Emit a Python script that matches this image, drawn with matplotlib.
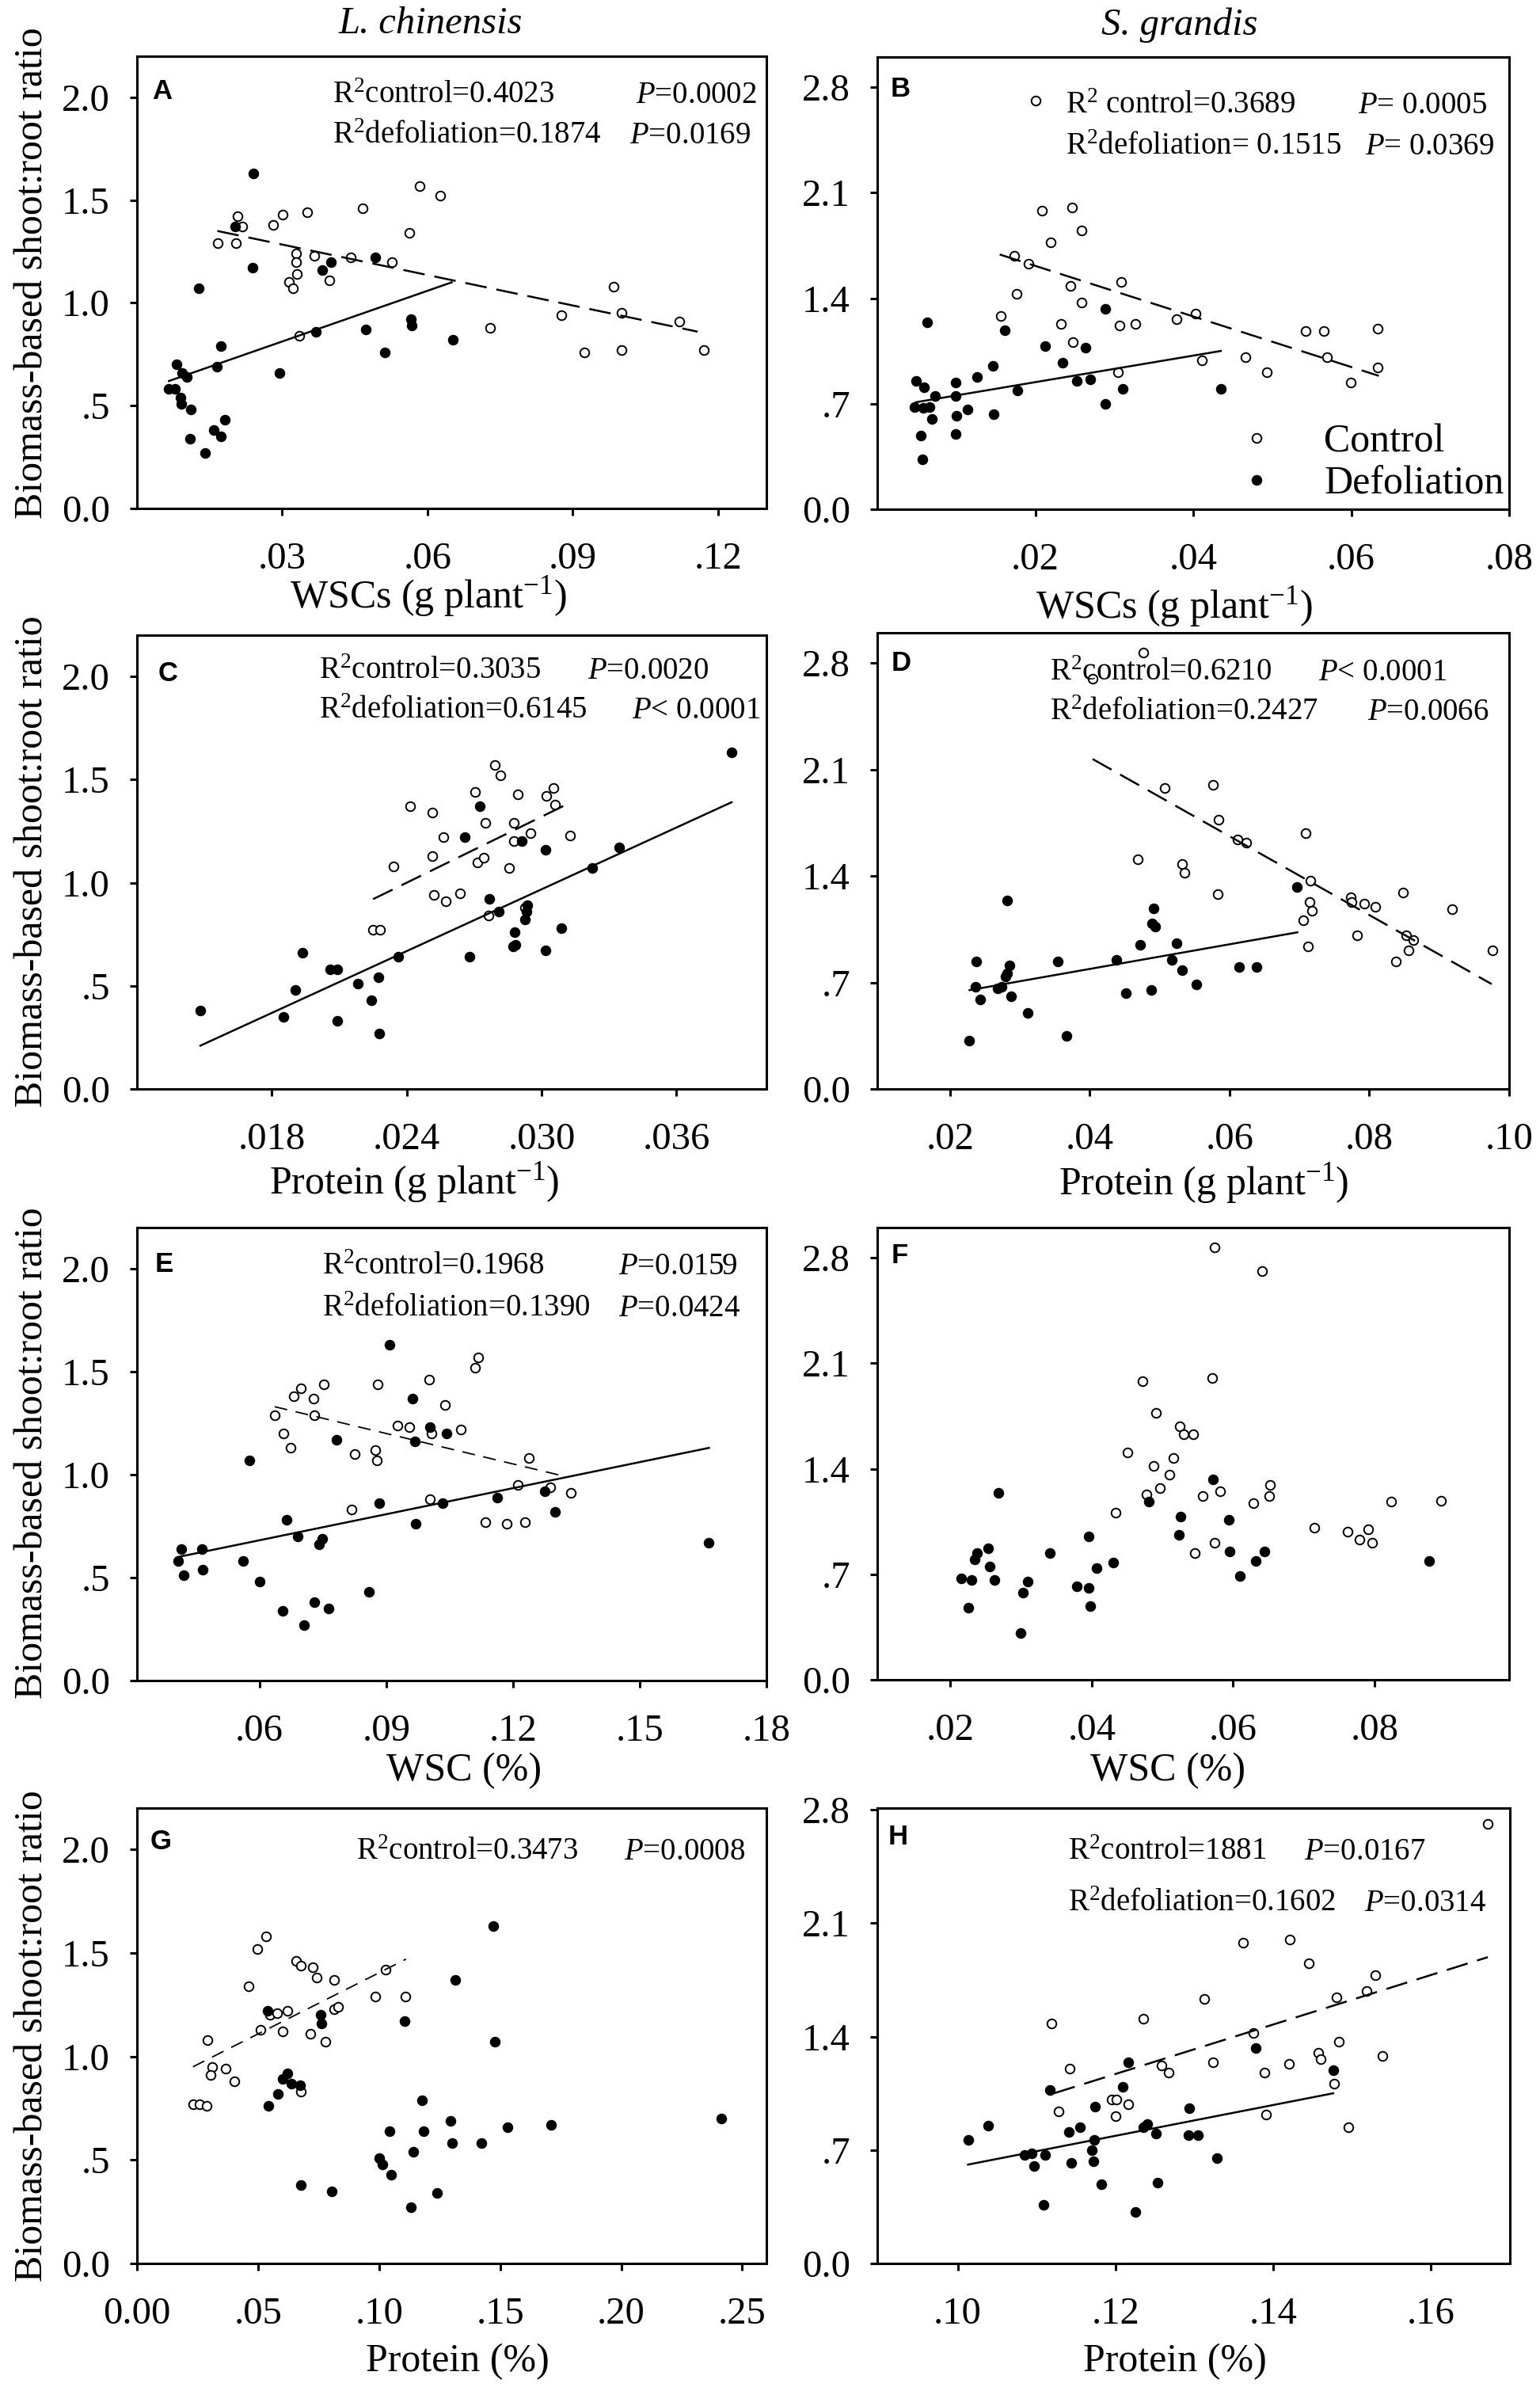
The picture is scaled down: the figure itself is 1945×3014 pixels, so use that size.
import numpy as np
import matplotlib
matplotlib.use("Agg")
import matplotlib.pyplot as plt
from matplotlib.lines import Line2D

plt.rcParams['font.family'] = ['Liberation Serif', 'DejaVu Serif']
plt.rcParams['mathtext.fontset'] = 'custom'
plt.rcParams['mathtext.rm'] = 'Liberation Serif'
plt.rcParams['mathtext.it'] = 'Liberation Serif:italic'

# ---- data ----
# A: L. chinensis, WSCs (g/plant)
a_ctrl_x = [0.0166, 0.0207, 0.0217, 0.0205, 0.0282, 0.0301, 0.0352, 0.0329, 0.0328, 0.0330, 0.0314, 0.0322, 0.0367, 0.0398, 0.0441,
            0.0466, 0.0526, 0.0563, 0.0584, 0.0626, 0.0335, 0.0730, 0.0876, 0.0924, 0.0984, 0.1001, 0.1001, 0.1120, 0.1171]
a_ctrl_y = [1.29, 1.42, 1.37, 1.29, 1.38, 1.43, 1.44, 1.24, 1.20, 1.14, 1.10, 1.07, 1.23, 1.11, 1.22,
            1.46, 1.20, 1.34, 1.57, 1.52, 0.84, 0.88, 0.94, 0.76, 1.08, 0.95, 0.77, 0.91, 0.77]
a_def_x = [0.0240, 0.0202, 0.0239, 0.0128, 0.0382, 0.0400, 0.0492, 0.0369, 0.0473, 0.0566, 0.0568, 0.0512, 0.0652, 0.0295, 0.0173,
           0.0165, 0.0082, 0.0093, 0.0103, 0.0065, 0.0079, 0.0090, 0.0091, 0.0112, 0.0181, 0.0158, 0.0174, 0.0110, 0.0141]
a_def_y = [1.63, 1.37, 1.17, 1.07, 1.16, 1.20, 1.22, 0.86, 0.87, 0.92, 0.89, 0.76, 0.82, 0.66, 0.79,
           0.69, 0.70, 0.66, 0.64, 0.58, 0.58, 0.54, 0.51, 0.48, 0.43, 0.38, 0.35, 0.34, 0.27]
a_fit_ctrl = ([0.0166, 0.1158], [1.35, 0.86])
a_fit_def = ([0.0066, 0.0650], [0.62, 1.10])

# B: S. grandis, WSCs (g/plant)
b_ctrl_x = [0.0201, 0.0209, 0.0247, 0.0220, 0.0259, 0.0173, 0.0191, 0.0176, 0.0156, 0.0245, 0.0309, 0.0259, 0.0233, 0.0307,
            0.0327, 0.0379, 0.0403, 0.0248, 0.0305, 0.0411, 0.0466, 0.0493, 0.0542, 0.0565, 0.0569, 0.0634, 0.0634, 0.0599]
b_ctrl_y = [2.71, 1.98, 2.00, 1.77, 1.85, 1.68, 1.63, 1.43, 1.28, 1.48, 1.51, 1.37, 1.23, 1.22,
            1.23, 1.26, 1.30, 1.11, 0.91, 0.99, 1.01, 0.91, 1.18, 1.18, 1.01, 1.20, 0.94, 0.84]
b_def_x = [0.0063, 0.0161, 0.0289, 0.0213, 0.0264, 0.0235, 0.0146, 0.0126, 0.0099, 0.0253, 0.0270, 0.0177, 0.0311, 0.0435, 0.0289,
           0.0049, 0.0059, 0.0073, 0.0099, 0.0047, 0.0058, 0.0066, 0.0114, 0.0100, 0.0069, 0.0147, 0.0055, 0.0099, 0.0057]
b_def_y = [1.24, 1.19, 1.33, 1.08, 1.07, 0.97, 0.95, 0.88, 0.84, 0.85, 0.86, 0.79, 0.80, 0.80, 0.70,
           0.85, 0.81, 0.75, 0.75, 0.68, 0.67, 0.68, 0.66, 0.62, 0.60, 0.63, 0.49, 0.50, 0.33]
b_fit_ctrl = ([0.0155, 0.0635], [1.69, 0.885])
b_fit_def = ([0.0049, 0.0435], [0.71, 1.05])

# C: L. chinensis, protein (g/plant)
c_ctrl_x = [.02414, .02514, .02564, .02514, .02341, .02520, .02575, .02637, .02250, .02282, .02704, .02791, .02815, .02748,
            .02893, .02875, .02875, .02951, .02713, .02743, .02854, .03022, .03053, .03061, .03128, .02763, .02925]
c_ctrl_y = [1.37, 1.34, 1.22, 1.13, 1.08, 0.94, 0.91, 0.95, 0.77, 0.77, 1.44, 1.57, 1.52, 1.29,
            1.43, 1.29, 1.20, 1.24, 1.10, 1.12, 1.07, 1.42, 1.46, 1.38, 1.23, 0.84, 0.88]
c_def_x = [.03845, .02726, .02659, .02910, .03018, .03345, .03224, .02767, .02808, .02936, .02932, .02927, .03087, .02880, .02873,
           .02882, .03016, .02681, .02363, .01936, .02060, .02092, .02181, .02274, .02241, .01906, .01850, .02092, .02276, .01482]
c_def_y = [1.63, 1.37, 1.22, 1.20, 1.16, 1.17, 1.07, 0.92, 0.86, 0.89, 0.86, 0.82, 0.78, 0.76, 0.69,
           0.70, 0.67, 0.64, 0.64, 0.66, 0.58, 0.58, 0.51, 0.54, 0.43, 0.48, 0.35, 0.33, 0.27, 0.38]
c_fit_ctrl = ([.0225, .03131], [0.92, 1.39])
c_fit_def = ([.01482, .03845], [0.21, 1.39])

# D: S. grandis, protein (g/plant)
d_ctrl_x = [.0477, .0404, .0507, .0576, .0584, .0612, .0624, .0709, .0469, .0532, .0536, .0583, .0716, .0715, .0718,
            .0706, .0712, .0773, .0775, .0793, .0808, .0848, .0782, .0853, .0863, .0856, .0838, .0919, .0976]
d_ctrl_y = [2.87, 2.70, 1.98, 2.00, 1.77, 1.64, 1.62, 1.68, 1.51, 1.48, 1.42, 1.28, 1.37, 1.23, 1.17,
            1.11, 0.94, 1.26, 1.23, 1.22, 1.20, 1.29, 1.01, 1.01, 0.98, 0.91, 0.84, 1.18, 0.91]
d_def_x = [.0696, .0282, .0491, .0489, .0494, .0472, .0524, .0517, .0438, .0354, .0532, .0552, .0614, .0639,
           .0238, .0285, .0282, .0280, .0237, .0268, .0274, .0243, .0287, .0452, .0488, .0311, .0367, .0227]
d_def_y = [1.33, 1.24, 1.19, 1.09, 1.07, 0.95, 0.96, 0.85, 0.85, 0.84, 0.78, 0.69, 0.80, 0.80,
           0.84, 0.81, 0.76, 0.74, 0.67, 0.66, 0.67, 0.59, 0.61, 0.63, 0.65, 0.50, 0.35, 0.32]
d_fit_ctrl = ([.0404, .0975], [2.17, 0.69])
d_fit_def = ([.0228, .0697], [0.65, 1.03])

# E: L. chinensis, WSC (%)
e_ctrl_x = [.0636, .0657, .0673, .0681, .0698, .0728, .0730, .0752, .0826, .0818, .0875, .0877, .0880, .0927, .0954,
            .1002, .1007, .1040, .1077, .1110, .1118, .1004, .1134, .1186, .1228, .1212, .1238, .1289, .1338]
e_ctrl_y = [1.29, 1.20, 1.13, 1.38, 1.42, 1.37, 1.29, 1.44, 1.10, 0.83, 1.12, 1.07, 1.44, 1.24, 1.23,
            1.46, 1.20, 1.34, 1.22, 1.52, 1.57, 0.88, 0.77, 0.76, 0.77, 0.95, 1.08, 0.94, 0.91]
e_def_x = [.0907, .0962, .1003, .1042, .0967, .0782, .0577, .0883, .1033, .1162, .1276, .1299, .0969, .0665, .0690,
           .0749, .0742, .0415, .0464, .0407, .0561, .0420, .0465, .0600, .0860, .0730, .0654, .0763, .0705, .1664]
e_def_y = [1.63, 1.37, 1.23, 1.20, 1.16, 1.17, 1.07, 0.86, 0.86, 0.89, 0.92, 0.82, 0.76, 0.78, 0.70,
           0.69, 0.66, 0.64, 0.64, 0.58, 0.58, 0.51, 0.54, 0.48, 0.43, 0.38, 0.34, 0.35, 0.27, 0.67]
e_fit_ctrl = ([.0636, .1326], [1.33, 0.99])
e_fit_def = ([.0407, .1664], [0.60, 1.13])

# F: S. grandis, WSC (%)
f_ctrl_x = [.0574, .0641, .0472, .0570, .0491, .0524, .0530, .0544, .0451, .0515, .0487, .0510, .0497, .0478, .0557,
            .0581, .0434, .0574, .0546, .0629, .0651, .0652, .0715, .0762, .0778, .0791, .0796, .0823, .0894]
f_ctrl_y = [2.87, 2.71, 1.98, 2.00, 1.77, 1.68, 1.63, 1.63, 1.51, 1.47, 1.42, 1.36, 1.27, 1.23, 1.22,
            1.25, 1.11, 0.91, 0.84, 1.17, 1.22, 1.29, 1.01, 0.98, 0.93, 1.00, 0.91, 1.18, 1.19]
f_def_x = [.0268, .0572, .0481, .0526, .0594, .0523, .0396, .0254, .0238, .0235, .0341, .0256, .0263, .0216, .0230,
           .0310, .0303, .0379, .0396, .0398, .0226, .0300, .0407, .0430, .0595, .0644, .0632, .0609, .0877]
f_def_y = [1.24, 1.33, 1.18, 1.08, 1.06, 0.96, 0.95, 0.87, 0.84, 0.80, 0.84, 0.75, 0.66, 0.67, 0.66,
           0.65, 0.58, 0.62, 0.61, 0.49, 0.48, 0.31, 0.74, 0.78, 0.85, 0.85, 0.79, 0.69, 0.79]

# G: L. chinensis, protein (%)
g_ctrl_x = [.0233, .0257, .0289, .0291, .0312, .0304, .0366, .0401, .0460, .0498, .0532, .0510, .0551, .0579, .0601,
            .0623, .0656, .0678, .0725, .0741, .0715, .0777, .0676, .0814, .0814, .0832, .0986, .1026, .1109]
g_ctrl_y = [0.77, 0.77, 0.76, 1.08, 0.95, 0.91, 0.94, 0.88, 1.34, 1.52, 1.58, 1.13, 1.20, 1.21, 1.12,
            1.22, 1.46, 1.44, 1.43, 1.38, 1.11, 1.07, 0.83, 1.37, 1.23, 1.24, 1.29, 1.42, 1.29]
g_def_x = [.1472, .1316, .1105, .1478, .0538, .0759, .0763, .0621, .0601, .0638, .0674, .0581, .0543, .1176, .1296,
           .1043, .1184, .1530, .1709, .2415, .1302, .1423, .1140, .1000, .1014, .1049, .0678, .0804, .1239, .1132]
g_def_y = [1.63, 1.37, 1.17, 1.07, 1.22, 1.20, 1.16, 0.92, 0.89, 0.87, 0.86, 0.82, 0.76, 0.79, 0.69,
           0.64, 0.64, 0.66, 0.67, 0.70, 0.58, 0.58, 0.54, 0.51, 0.48, 0.43, 0.38, 0.35, 0.34, 0.27]
g_fit_ctrl = ([.0231, .1111], [0.95, 1.47])

# H: S. grandis, protein (%)
h_ctrl_x = [.1672, .1362, .1421, .1445, .1529, .1518, .1480, .1313, .1235, .1119, .1375, .1483, .1457, .1460, .1538,
            .1324, .1420, .1258, .1267, .1142, .1389, .1477, .1195, .1201, .1216, .1128, .1200, .1391, .1495]
h_ctrl_y = [2.71, 1.98, 2.00, 1.85, 1.78, 1.68, 1.64, 1.63, 1.51, 1.48, 1.42, 1.37, 1.30, 1.26, 1.28,
            1.24, 1.23, 1.22, 1.18, 1.20, 1.18, 1.11, 1.01, 1.01, 0.98, 0.94, 0.91, 0.92, 0.84]
h_def_x = [.1216, .1378, .1476, .1117, .1209, .1174, .1293, .1039, .1155, .1141, .1235, .1240, .1251, .1292, .1305,
           .1013, .1173, .1170, .1085, .1094, .1111, .1097, .1144, .1172, .1329, .1182, .1253, .1109, .1225]
h_def_y = [1.24, 1.33, 1.19, 1.07, 1.09, 0.97, 0.96, 0.85, 0.84, 0.81, 0.84, 0.86, 0.80, 0.79, 0.79,
           0.76, 0.76, 0.70, 0.67, 0.68, 0.67, 0.60, 0.62, 0.63, 0.65, 0.49, 0.50, 0.36, 0.32]
h_fit_ctrl = ([.1122, .1672], [1.05, 1.89])
h_fit_def = ([.1013, .1476], [0.61, 1.05])

# axis ticks
lc_yticks = [0.0, 0.5, 1.0, 1.5, 2.0]
lc_ylabels = ['0.0', '.5', '1.0', '1.5', '2.0']
sg_yticks = [0.0, 0.7, 1.4, 2.1, 2.8]
sg_ylabels = ['0.0', '.7', '1.4', '2.1', '2.8']

# ---- layout (pixel boxes in a 1945 x 3014 canvas) ----
W, H = 1945.0, 3014.0


def box(l, t, r, b):
    return [l / W, 1 - b / H, (r - l) / W, (b - t) / H]


R2 = r'R$^{\mathrm{2}}$'
panels = [
    dict(letter='A', pos=box(173, 71, 968, 642), ctrl=(a_ctrl_x, a_ctrl_y), dfl=(a_def_x, a_def_y),
         fc=a_fit_ctrl, fd=a_fit_def, xlim=(0, 0.13), xt=[.03, .06, .09, .12], xl=['.03', '.06', '.09', '.12'],
         ylim=(0, 2.2), yt=lc_yticks, yl=lc_ylabels, lpos=(0.024, 0.951), dash=(11, 5), dlw=1.8,
         notes=[(0.311, 0.897, R2 + 'control=0.4023'), (0.793, 0.897, '$P$=0.0002'),
                (0.311, 0.807, R2 + 'defoliation=0.1874'), (0.782, 0.807, '$P$=0.0169')]),
    dict(letter='B', pos=box(1108, 72, 1906, 643), ctrl=(b_ctrl_x, b_ctrl_y), dfl=(b_def_x, b_def_y),
         fc=b_fit_ctrl, fd=b_fit_def, xlim=(0, 0.08), xt=[.02, .04, .06, .08], xl=['.02', '.04', '.06', '.08'],
         ylim=(0, 3.0), yt=sg_yticks, yl=sg_ylabels, lpos=(0.021, 0.958), dash=(11, 5), dlw=1.8,
         notes=[(0.2985, 0.8765, R2 + ' control=0.3689'), (0.761, 0.8765, '$P$= 0.0005'),
                (0.2985, 0.785, R2 + 'defoliation= 0.1515'), (0.772, 0.785, '$P$= 0.0369')]),
    dict(letter='C', pos=box(173, 802, 968, 1375), ctrl=(c_ctrl_x, c_ctrl_y), dfl=(c_def_x, c_def_y),
         fc=c_fit_ctrl, fd=c_fit_def, xlim=(0.012, 0.040), xt=[.018, .024, .030, .036],
         xl=['.018', '.024', '.030', '.036'],
         ylim=(0, 2.2), yt=lc_yticks, yl=lc_ylabels, lpos=(0.034, 0.945), dash=(11, 5), dlw=1.8,
         notes=[(0.2895, 0.9036, R2 + 'control=0.3035'), (0.716, 0.9036, '$P$=0.0020'),
                (0.2895, 0.8167, R2 + 'defoliation=0.6145'), (0.786, 0.8167, '$P$< 0.0001')]),
    dict(letter='D', pos=box(1108, 799, 1906, 1375), ctrl=(d_ctrl_x, d_ctrl_y), dfl=(d_def_x, d_def_y),
         fc=d_fit_ctrl, fd=d_fit_def, xlim=(0.0096, 0.10), xt=[.02, .04, .06, .08, .10],
         xl=['.02', '.04', '.06', '.08', '.10'],
         ylim=(0, 3.0), yt=sg_yticks, yl=sg_ylabels, lpos=(0.022, 0.962), dash=(11, 5), dlw=1.8,
         notes=[(0.2728, 0.8958, R2 + 'control=0.6210'), (0.698, 0.8958, '$P$< 0.0001'),
                (0.2728, 0.8096, R2 + 'defoliation=0.2427'), (0.776, 0.8096, '$P$=0.0066')]),
    dict(letter='E', pos=box(173, 1550, 968, 2122), ctrl=(e_ctrl_x, e_ctrl_y), dfl=(e_def_x, e_def_y),
         fc=e_fit_ctrl, fd=e_fit_def, xlim=(0.031, 0.18), xt=[.06, .09, .12, .15, .18],
         xl=['.06', '.09', '.12', '.15', '.18'],
         ylim=(0, 2.2), yt=lc_yticks, yl=lc_ylabels, lpos=(0.029, 0.947), dash=(9, 6), dlw=1.3,
         notes=[(0.294, 0.897, R2 + 'control=0.1968'), (0.765, 0.897, '$P$=0.0159'),
                (0.294, 0.8035, R2 + 'defoliation=0.1390'), (0.765, 0.8035, '$P$=0.0424')]),
    dict(letter='F', pos=box(1108, 1550, 1906, 2121), ctrl=(f_ctrl_x, f_ctrl_y), dfl=(f_def_x, f_def_y),
         fc=None, fd=None, xlim=(0.0097, 0.099), xt=[.02, .04, .06, .08], xl=['.02', '.04', '.06', '.08'],
         ylim=(0, 3.0), yt=sg_yticks, yl=sg_ylabels, lpos=(0.022, 0.966), dash=(11, 5), dlw=1.8,
         notes=[]),
    dict(letter='G', pos=box(173, 2283, 968, 2858), ctrl=(g_ctrl_x, g_ctrl_y), dfl=(g_def_x, g_def_y),
         fc=g_fit_ctrl, fd=None, xlim=(0, 0.26), xt=[0, .05, .10, .15, .20, .25],
         xl=['0.00', '.05', '.10', '.15', '.20', '.25'],
         ylim=(0, 2.2), yt=lc_yticks, yl=lc_ylabels, lpos=(0.021, 0.955), dash=(9, 6), dlw=1.3,
         notes=[(0.348, 0.887, R2 + 'control=0.3473'), (0.773, 0.887, '$P$=0.0008')]),
    dict(letter='H', pos=box(1108, 2283, 1907, 2858), ctrl=(h_ctrl_x, h_ctrl_y), dfl=(h_def_x, h_def_y),
         fc=h_fit_ctrl, fd=h_fit_def, xlim=(0.0898, 0.17), xt=[.10, .12, .14, .16],
         xl=['.10', '.12', '.14', '.16'],
         ylim=(0, 2.81), yt=sg_yticks, yl=sg_ylabels, lpos=(0.017, 0.966), dash=(11, 5), dlw=1.8,
         notes=[(0.302, 0.887, R2 + 'control=1881'), (0.674, 0.887, '$P$=0.0167'),
                (0.302, 0.774, R2 + 'defoliation=0.1602'), (0.770, 0.774, '$P$=0.0314')]),
]

# x axis labels: (text, centre x px, baseline y px)
xlabels = [('WSCs (g plant$^{\\mathrm{-1}}$)', 541, 767), ('WSCs (g plant$^{\\mathrm{-1}}$)', 1483, 780),
           ('Protein (g plant$^{\\mathrm{-1}}$)', 523, 1507), ('Protein (g plant$^{\\mathrm{-1}}$)', 1520, 1508),
           ('WSC (%)', 586, 2248), ('WSC (%)', 1475, 2248),
           ('Protein (%)', 578, 2994), ('Protein (%)', 1484, 2994)]
ylabel_rows = [345, 1088, 1835, 2571]

fig = plt.figure(figsize=(19.45, 30.14), dpi=100)

mk = dict(ls='none', marker='o', ms=8.3, mew=1.4, mec='black')
for p in panels:
    ax = fig.add_axes(p['pos'])
    ax.plot(p['ctrl'][0], p['ctrl'][1], mfc='white', zorder=3, **mk)
    ax.plot(p['dfl'][0], p['dfl'][1], mfc='black', zorder=3, **mk)
    if p['fd'] is not None:
        ax.plot(p['fd'][0], p['fd'][1], color='black', lw=1.8, zorder=4)
    if p['fc'] is not None:
        ax.plot(p['fc'][0], p['fc'][1], color='black', lw=p['dlw'], ls=(0, p['dash']), zorder=4)
    ax.set_xlim(p['xlim'])
    ax.set_ylim(p['ylim'])
    ax.set_xticks(p['xt'])
    ax.set_xticklabels(p['xl'])
    ax.set_yticks(p['yt'])
    ax.set_yticklabels(p['yl'])
    for s in ax.spines.values():
        s.set_linewidth(2.2)
    ax.tick_params(direction='out', length=6.5, width=2.2, labelsize=35)
    ax.tick_params(axis='x', pad=24)
    ax.tick_params(axis='y', pad=18)
    ax.text(p['lpos'][0], p['lpos'][1], p['letter'], transform=ax.transAxes, fontsize=25,
            fontweight='bold', family='Liberation Sans', va='top', ha='left')
    for fx, fy, s in p['notes']:
        ax.text(fx, fy, s, transform=ax.transAxes, fontsize=28, va='baseline', ha='left')
    if p['letter'] == 'B':
        hs = [Line2D([], [], mfc='white', **mk), Line2D([], [], mfc='black', **mk)]
        ax.legend(hs, ['Control', 'Defoliation'], loc='lower right', bbox_to_anchor=(0.992, 0.015),
                  frameon=False, fontsize=36, handlelength=1.0, handletextpad=1.2,
                  labelspacing=0.12, borderpad=0, borderaxespad=0)

for txt, cx, by in xlabels:
    fig.text(cx / W, 1 - by / H, txt, ha='center', va='baseline', fontsize=36)
for cy in ylabel_rows:
    fig.text(41 / W, 1 - cy / H, 'Biomass-based shoot:root ratio', rotation=90,
             ha='center', va='center', fontsize=36)

fig.text(544 / W, 1 - 42 / H, 'L. chinensis', style='italic', ha='center', va='baseline', fontsize=35)
fig.text(1490 / W, 1 - 44 / H, 'S. grandis', style='italic', ha='center', va='baseline', fontsize=35)

fig.savefig('out.png', dpi=100)
